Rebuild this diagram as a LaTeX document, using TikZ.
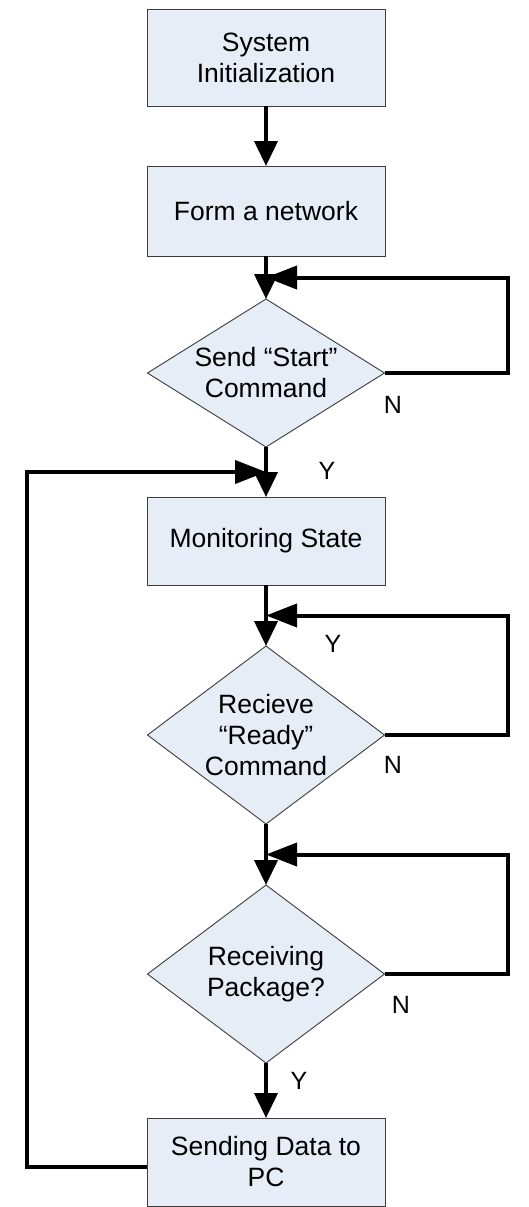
\documentclass[tikz,border=0pt]{standalone}
\usepackage{fontspec}
\setmainfont{Liberation Sans}
\usetikzlibrary{shapes.geometric,arrows.meta,calc}
\definecolor{boxfill}{RGB}{231,237,247}
\definecolor{boxline}{RGB}{60,60,60}
\begin{document}
\begin{tikzpicture}[x=1pt,y=-1pt,
 procbox/.style={draw=boxline,line width=0.9pt,fill=boxfill,minimum width=238pt,inner sep=0pt,outer sep=0pt,align=center,font=\fontsize{26.5}{31}\selectfont},
 decbox/.style={diamond,draw=boxline,line width=0.9pt,fill=boxfill,minimum width=237pt,inner sep=0pt,outer sep=0pt},
 dectext/.style={align=center,font=\fontsize{26.5}{31}\selectfont,inner sep=0pt},
 flow/.style={line width=4pt,-{Triangle[length=25pt,width=23pt]}},
 loopflow/.style={line width=4pt,-{Triangle[length=31pt,width=23pt]}},
 lbl/.style={font=\fontsize{25}{28}\selectfont,inner sep=0pt},
]
\useasboundingbox (0,0) rectangle (529,1207);

\node[procbox,minimum height=97pt] (b1) at (266,57.5) {System\\Initialization};
\node[procbox,minimum height=90pt] (b2) at (266,211) {Form a network};
\node[decbox,minimum height=148pt] (d1) at (266,373) {};
\node[dectext] (t1) at (266,373) {Send “Start”\\Command};
\node[procbox,minimum height=88pt] (b3) at (266,541) {Monitoring State};
\node[decbox,minimum height=178pt] (d2) at (266,735) {};
\node[dectext] (t2) at (266,735) {Recieve\\“Ready”\\Command};
\node[decbox,minimum height=178pt] (d3) at (266,974) {};
\node[dectext] (t3) at (266,974) {Receiving\\Package?};
\node[procbox,minimum height=88pt] (b4) at (266,1162) {Sending Data to\\PC};

\coordinate (j1) at ($(b2.south)!0.5!(d1.north)$);
\coordinate (j2) at ($(d1.south)!0.5!(b3.north)$);
\coordinate (j3) at ($(b3.south)!0.5!(d2.north)$);
\coordinate (j4) at ($(d2.south)!0.5!(d3.north)$);

\draw[flow] (b1.south) -- (b2.north);
\draw[flow] (b2.south) -- (d1.north);
\draw[loopflow] (d1.east) -- ++(123,0) |- (j1);
\draw[flow] (d1.south) -- (b3.north);
\draw[loopflow] ([yshift=-5pt]b4.west) -- ++(-120,0) |- (j2);
\draw[flow] (b3.south) -- (d2.north);
\draw[loopflow] (d2.east) -- ++(123,0) |- (j3);
\draw[flow] (d2.south) -- (d3.north);
\draw[loopflow] (d3.east) -- ++(123,0) |- (j4);
\draw[flow] (d3.south) -- (b4.north);

\node[lbl] (n1) at (393,405) {N};
\node[lbl] (y1) at (327,471) {Y};
\node[lbl] (y2) at (333,644) {Y};
\node[lbl] (n2) at (393,765) {N};
\node[lbl] (n3) at (401,1005) {N};
\node[lbl] (y3) at (299,1081) {Y};
\end{tikzpicture}
\end{document}
